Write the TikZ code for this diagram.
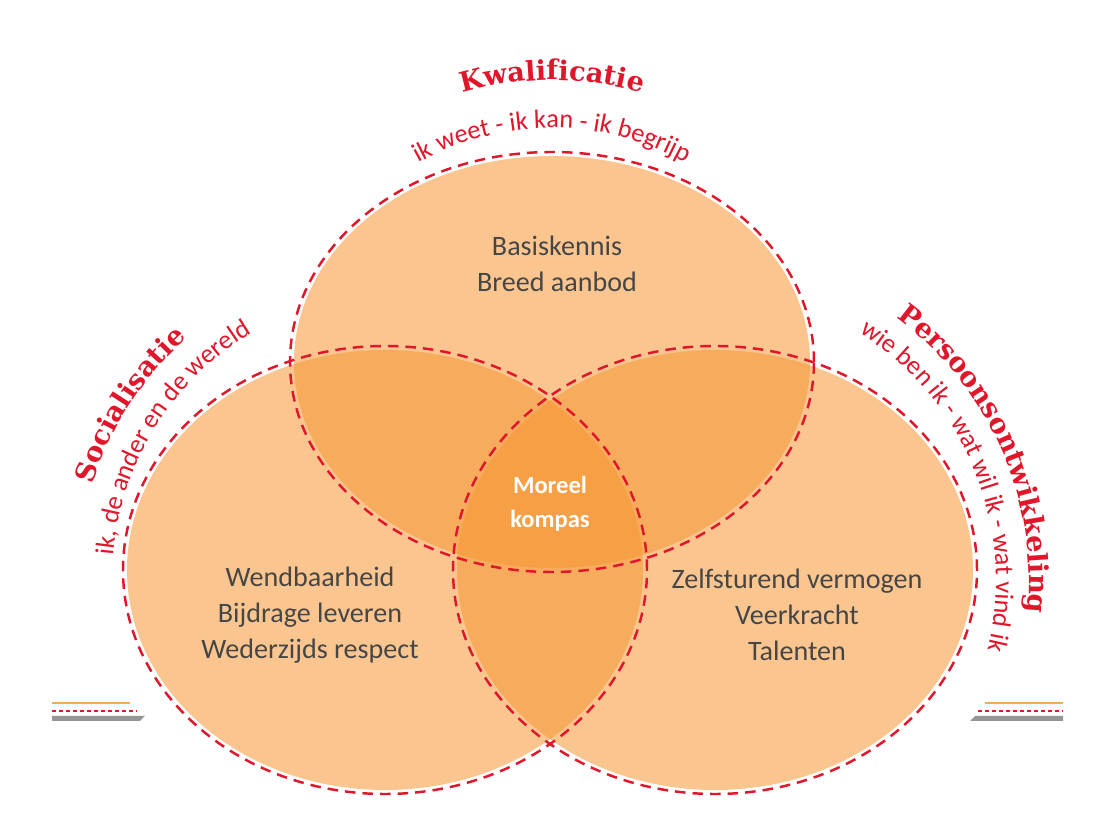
\documentclass[tikz,border=0pt]{standalone}
\usepackage{fontspec}
\setmainfont{Carlito}
\newfontfamily\titlefont{DejaVu Serif}
\usetikzlibrary{decorations.text}
\definecolor{blob}{RGB}{245,150,50}
\definecolor{rood}{RGB}{224,22,42}
\definecolor{tekst}{RGB}{70,70,70}
\definecolor{grijs}{RGB}{150,150,150}
\definecolor{lijn}{RGB}{245,170,90}
\begin{document}
\begin{tikzpicture}[x=0.02cm,y=0.02cm,
        blobfill/.style={fill=blob,fill opacity=0.55},
        blobline/.style={draw=rood,line width=1.4pt,dash pattern=on 6pt off 4pt},
        inhoud/.style={text=tekst,align=center,font=\fontsize{16}{20.5}\selectfont},
        kern/.style={text=white,align=center,font=\fontsize{14}{19}\selectfont\bfseries},
        boogtekst/.style={decorate,decoration={text along path,text align=center,text color=rood}}]
        \useasboundingbox (0,0) rectangle (1115,814);
        % cirkels
        \fill[blobfill] (552,452) ellipse [x radius=258,y radius=206];
        \fill[blobfill] (385,244) ellipse [x radius=258,y radius=220];
        \fill[blobfill] (715,244) ellipse [x radius=258,y radius=220];
        \draw[blobline] (552,452) ellipse [x radius=262,y radius=210];
        \draw[blobline] (385,244) ellipse [x radius=262,y radius=224];
        \draw[blobline] (715,244) ellipse [x radius=262,y radius=224];
        % teksten
        \node[inhoud] (Kwal) at (557,550) {Basiskennis\\Breed aanbod};
        \node[inhoud] (Soc) at (310,199) {Wendbaarheid\\Bijdrage leveren\\Wederzijds respect};
        \node[inhoud] (Pers) at (797,199) {Zelfsturend vermogen\\Veerkracht\\Talenten};
        \node[kern] (Kompas) at (550,310) {Moreel\\kompas};
        % boogteksten
        \path[boogtekst,decoration={text={|\titlefont\fontsize{15.5}{16}\selectfont\bfseries|Kwalificatie}}]
                (552,414) ++(115:320) arc[start angle=115,end angle=65,radius=320];
        \path[boogtekst,decoration={text={|\fontsize{15}{16}\selectfont|ik weet - ik kan - ik begrijp}}]
                (552,414) ++(122:272) arc[start angle=122,end angle=58,radius=272];
        \path[boogtekst,decoration={text={|\titlefont\fontsize{15.5}{16}\selectfont\bfseries|Socialisatie}}]
                (400,234) ++(172:322) arc[start angle=172,end angle=122,radius=322];
        \path[boogtekst,decoration={text={|\fontsize{15}{16}\selectfont|ik, de ander en de wereld}}]
                (400,234) ++(184:288) arc[start angle=184,end angle=112,radius=288];
        \path[boogtekst,decoration={text={|\titlefont\fontsize{15.5}{16}\selectfont\bfseries|Persoonsontwikkeling}}]
                (704,234) ++(62:325) arc[start angle=62,end angle=-14,radius=325];
        \path[boogtekst,decoration={text={|\fontsize{15}{16}\selectfont|wie ben ik - wat wil ik - wat vind ik}}]
                (704,234) ++(68:292) arc[start angle=68,end angle=-24,radius=292];
        % lijntjes onder
        \draw[lijn,line width=1pt] (52,111) -- (130,111);
        \draw[rood,line width=1.5pt,dash pattern=on 2pt off 2pt] (52,103) -- (137,103);
        \fill[grijs] (52,93) -- (140,93) -- (145,98) -- (52,98) -- cycle;
        \draw[lijn,line width=1pt] (985,111) -- (1063,111);
        \draw[rood,line width=1.5pt,dash pattern=on 2pt off 2pt] (978,103) -- (1063,103);
        \fill[grijs] (970,93) -- (1063,93) -- (1063,98) -- (975,98) -- cycle;
\end{tikzpicture}
\end{document}
